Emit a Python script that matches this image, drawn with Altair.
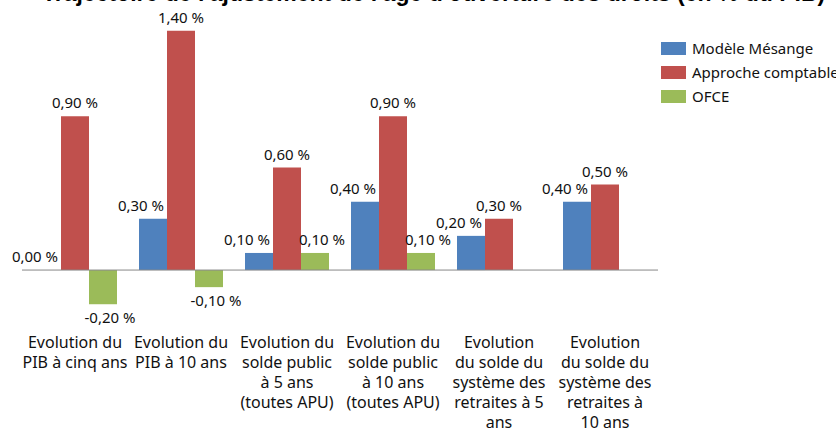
import altair as alt
import pandas as pd

category_lines = [
    ["Evolution du", "PIB à cinq ans"],
    ["Evolution du", "PIB à 10 ans"],
    ["Evolution du", "solde public", "à 5 ans", "(toutes APU)"],
    ["Evolution du", "solde public", "à 10 ans", "(toutes APU)"],
    ["Evolution", "du solde du", "système des", "retraites à 5", "ans"],
    ["Evolution", "du solde du", "système des", "retraites à", "10 ans"],
]
categories = [" ".join(l) for l in category_lines]
series = ["Modèle Mésange", "Approche comptable", "OFCE"]
mesange = [0.00, 0.30, 0.10, 0.40, 0.20, 0.40]
comptable = [0.90, 1.40, 0.60, 0.90, 0.30, 0.50]
ofce = [-0.20, -0.10, 0.10, 0.10, None, None]
colors = ["#4F81BD", "#C0504D", "#9BBB59"]
title_text = "Trajectoire de l'ajustement de l'âge d'ouverture des droits (en % du PIB)"

rows = []
for i, c in enumerate(categories):
    for j, (s, vals) in enumerate(zip(series, [mesange, comptable, ofce])):
        v = vals[i]
        if v is None:
            continue
        rows.append({"cat": c, "ci": i, "serie": s, "si": j, "val": v,
                     "label": f"{v:.2f}".replace(".", ",") + " %"})
df = pd.DataFrame(rows)

line_rows = []
for i, lines in enumerate(category_lines):
    for k, t in enumerate(lines):
        line_rows.append({"ci": i, "k": k, "txt": t})
df_lines = pd.DataFrame(line_rows)

FONT = "Noto Sans"
TXT = "#111111"
BW = 28 / 106  # bar width in category units

xscale = alt.Scale(domain=[-0.5, 5.5], nice=False, zero=False)
yscale = alt.Scale(domain=[-0.38, 1.58], nice=False, zero=False)

base = alt.Chart(df).transform_calculate(
    xc=f"datum.ci + (datum.si - 1) * {BW}",
    x0=f"datum.ci + (datum.si - 1) * {BW} - {BW / 2}",
    x1=f"datum.ci + (datum.si - 1) * {BW} + {BW / 2}",
)

bars = base.mark_bar().encode(
    x=alt.X("x0:Q", scale=xscale, axis=None),
    x2="x1:Q",
    y=alt.Y("val:Q", scale=yscale, axis=None),
    y2=alt.datum(0),
    color=alt.Color("serie:N", scale=alt.Scale(domain=series, range=colors),
                    legend=alt.Legend(title=None, orient="none", legendX=639, legendY=36,
                                      symbolType="M-1,-0.52H1V0.52H-1Z", symbolSize=625,
                                      symbolStrokeWidth=0, labelFontSize=15, labelFont=FONT,
                                      labelColor=TXT, rowPadding=3, labelOffset=6, padding=0)),
)

zero_rule = alt.Chart(pd.DataFrame({"z": [0]})).mark_rule(color="#888888", strokeWidth=1).encode(
    y=alt.Y("z:Q", scale=yscale, axis=None)
)

dxs = {"Modèle Mésange": -12, "Approche comptable": 0, "OFCE": 7}
label_layers = []
for s in series:
    pos = base.transform_filter((alt.datum.serie == s) & (alt.datum.val >= 0)).mark_text(
        font=FONT, fontSize=15, color=TXT, baseline="bottom", dy=-5, dx=dxs[s]
    ).encode(x=alt.X("xc:Q", scale=xscale, axis=None),
             y=alt.Y("val:Q", scale=yscale, axis=None), text="label:N")
    neg = base.transform_filter((alt.datum.serie == s) & (alt.datum.val < 0)).mark_text(
        font=FONT, fontSize=15, color=TXT, baseline="top", dy=7, dx=dxs[s]
    ).encode(x=alt.X("xc:Q", scale=xscale, axis=None),
             y=alt.Y("val:Q", scale=yscale, axis=None), text="label:N")
    label_layers += [pos, neg]

cat_layers = []
for k in range(5):
    cat_layers.append(
        alt.Chart(df_lines).transform_filter(alt.datum.k == k).mark_text(
            font=FONT, fontSize=16, color=TXT, baseline="middle", align="center", dy=20 * k
        ).encode(x=alt.X("ci:Q", scale=xscale, axis=None), y=alt.value(343), text="txt:N")
    )

title = alt.Chart(pd.DataFrame({"t": [title_text]})).mark_text(
    font="Liberation Sans", fontSize=23, fontWeight="bold", align="left",
    baseline="alphabetic", color="#000000"
).encode(x=alt.value(20), y=alt.value(1), text="t:N")

chart = alt.layer(bars, zero_rule, *label_layers, *cat_layers, title).properties(
    width=636, height=335,
    padding={"left": 22, "top": 0, "right": 178, "bottom": 97},
    autosize=alt.AutoSizeParams(type="none"),
).configure_view(stroke=None)

chart.save("out.html", embed_options={"renderer": "svg", "actions": False})
